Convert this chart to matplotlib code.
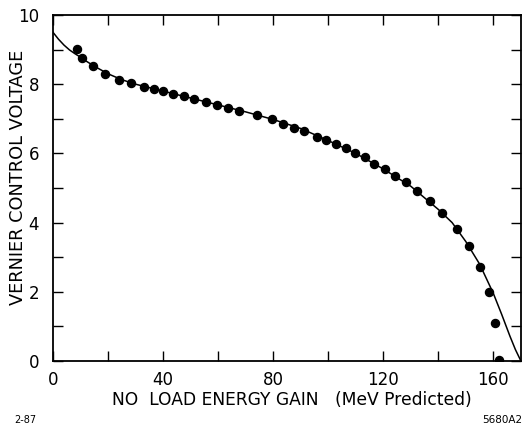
import matplotlib
matplotlib.use("Agg")
import matplotlib.pyplot as plt
from matplotlib.ticker import MultipleLocator

# measured points
energy = [8.7, 10.5, 14.5, 18.9, 24.0, 28.4, 33.1, 36.7, 40.0, 43.6, 47.6, 51.3,
          55.6, 59.6, 63.6, 67.6, 74.2, 79.6, 83.6, 87.6, 91.3, 96.0, 99.3, 102.9,
          106.5, 109.8, 113.5, 116.7, 120.7, 124.4, 128.4, 132.4, 137.1, 141.5,
          146.9, 151.3, 155.3, 158.5, 160.7, 162.2]
voltage = [9.02, 8.76, 8.53, 8.29, 8.12, 8.03, 7.92, 7.86, 7.80, 7.72, 7.66, 7.57,
           7.49, 7.40, 7.31, 7.23, 7.11, 6.99, 6.85, 6.73, 6.65, 6.47, 6.39, 6.27,
           6.16, 6.01, 5.90, 5.69, 5.55, 5.35, 5.17, 4.91, 4.62, 4.28,
           3.82, 3.32, 2.72, 1.99, 1.10, 0.03]

# fitted curve
curve_e = [0, 2, 4, 6, 8, 10, 12, 15, 20, 25, 30, 40, 50, 60, 70, 80, 90, 100,
           110, 120, 130, 140, 145, 150, 155, 160, 163, 166, 168, 170]
curve_v = [9.5, 9.3, 9.13, 8.99, 8.88, 8.78, 8.67, 8.52, 8.3, 8.13, 8.0, 7.8,
           7.6, 7.4, 7.2, 6.98, 6.72, 6.37, 6.0, 5.55, 5.05, 4.38, 4.0, 3.45,
           2.8, 1.95, 1.35, 0.72, 0.33, 0.0]

fig = plt.figure(figsize=(5.23, 4.32), dpi=100)
ax = fig.add_axes([0.1013, 0.1644, 0.8947, 0.8009])

ax.plot(curve_e, curve_v, color="black", lw=1.1)
ax.plot(energy, voltage, "o", color="black", ms=5.8)

ax.set_xlim(0, 170)
ax.set_ylim(0, 10)
ax.xaxis.set_major_locator(MultipleLocator(40))
ax.xaxis.set_minor_locator(MultipleLocator(20))
ax.yaxis.set_major_locator(MultipleLocator(2))
ax.yaxis.set_minor_locator(MultipleLocator(1))
ax.tick_params(which="both", direction="in", top=True, right=True,
               labelsize=12, width=1.0)
ax.tick_params(axis="x", which="major", length=7, pad=7)
ax.tick_params(axis="y", which="major", length=7, pad=10)
ax.tick_params(which="minor", length=7)
for s in ax.spines.values():
    s.set_linewidth(1.3)

ax.set_xlabel("NO  LOAD ENERGY GAIN   (MeV Predicted)", fontsize=12.3, va="center")
ax.xaxis.set_label_coords(0.51, -0.113)
ax.set_ylabel("VERNIER CONTROL VOLTAGE", fontsize=12.8, va="center")
ax.yaxis.set_label_coords(-0.075, 0.53)

fig.text(0.028, 0.02, "2-87", fontsize=7)
fig.text(0.998, 0.02, "5680A2", fontsize=7.5, ha="right")

plt.savefig("out.png", dpi=100)
